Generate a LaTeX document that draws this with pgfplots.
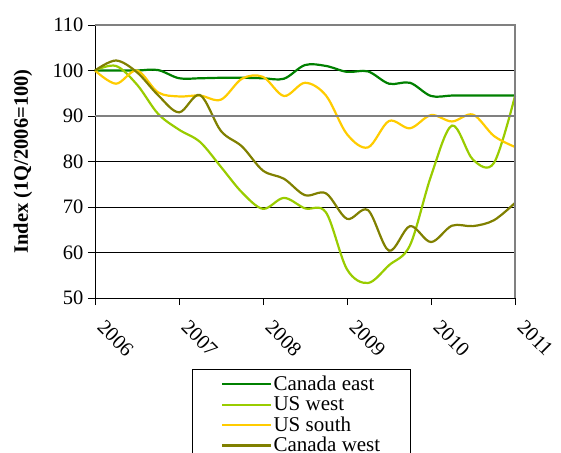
\documentclass[border=0pt]{standalone}
\usepackage{pgfplots}
\pgfplotsset{compat=1.18}
\usepackage{fontspec}
\setmainfont{Liberation Serif}
\definecolor{caneast}{RGB}{0,128,0}
\definecolor{uswest}{RGB}{153,204,0}
\definecolor{ussouth}{RGB}{255,204,0}
\definecolor{canwest}{RGB}{128,128,0}
\definecolor{frame}{RGB}{128,128,128}
\begin{document}
\begin{tikzpicture}
\begin{axis}[
  scale only axis, width=420pt, height=273pt,
  xmin=0, xmax=20, ymin=50, ymax=110,
  axis x line*=bottom, axis y line*=left,
  axis line style={black, line width=0.9pt},
  tick align=outside, major tick length=7pt,
  tick style={black, line width=0.8pt},
  xtick={0,4,8,12,16,20},
  xticklabels={2006,2007,2008,2009,2010,2011},
  ytick={50,60,...,110},
  ymajorgrids, grid style={black, line width=0.7pt},
  /pgf/number format/assume math mode=true,
  tick label style={font=\fontsize{20.5}{22}\selectfont},
  xticklabel style={xshift=11pt, yshift=-9pt, rotate=-45, anchor=north west},
  yticklabel style={xshift=-1pt},
  ylabel={\bfseries Index (1Q/2006=100)},
  ylabel style={font=\fontsize{20.5}{22}\selectfont, at={(-72pt,0.5)}, anchor=center},
  legend style={at={(97pt,-71pt)}, anchor=north west, draw=black, line width=0.7pt,
    font=\fontsize{21}{22}\selectfont, inner xsep=29pt, inner ysep=6pt, row sep=2.5pt,
    cells={anchor=west}, nodes={inner sep=1pt}},
  legend image code/.code={\draw[#1, line width=2.2pt] (0pt,0pt) -- (49pt,0pt);},
  every axis plot/.append style={line width=2.2pt, smooth, tension=0.55},
  clip=false,
]
\addplot[caneast] coordinates {(0,100) (1,100) (2,100) (3,100.1) (4,98.3) (5,98.3) (6,98.4) (7,98.4) (8,98.3) (9,98.2) (10,101.2) (11,101.0) (12,99.7) (13,99.8) (14,97.1) (15,97.3) (16,94.4) (17,94.5) (18,94.5) (19,94.5) (20,94.5)};
\addplot[uswest] coordinates {(0,100) (1,101) (2,96.9) (3,90.5) (4,87.0) (5,84.3) (6,78.8) (7,73.2) (8,69.6) (9,72.0) (10,69.7) (11,68.8) (12,56.3) (13,53.3) (14,57.2) (15,61.6) (16,76.8) (17,87.9) (18,80.4) (19,79.7) (20,94.4)};
\addplot[ussouth] coordinates {(0,100) (1,97.1) (2,100) (3,95.2) (4,94.3) (5,94.5) (6,93.6) (7,98.2) (8,98.6) (9,94.4) (10,97.3) (11,94.5) (12,86.0) (13,83.1) (14,88.9) (15,87.3) (16,90.2) (17,88.8) (18,90.3) (19,85.6) (20,83.2)};
\addplot[canwest] coordinates {(0,100) (1,102.2) (2,99.6) (3,94.6) (4,90.8) (5,94.6) (6,86.7) (7,83.3) (8,78.0) (9,76.2) (10,72.6) (11,73.0) (12,67.4) (13,69.3) (14,60.4) (15,65.8) (16,62.3) (17,65.9) (18,65.8) (19,67.1) (20,70.9)};
\legend{Canada east, US west, US south, Canada west}
\draw[frame, line width=1.8pt] (rel axis cs:0,1) -- (rel axis cs:1,1) -- (rel axis cs:1,0);
\draw[frame, line width=1.2pt] (axis cs:0,90) -- (axis cs:20,90);
\end{axis}
\pgfresetboundingbox
\path[use as bounding box] (-95pt,-154pt) rectangle (466pt,298pt);
\end{tikzpicture}
\end{document}
